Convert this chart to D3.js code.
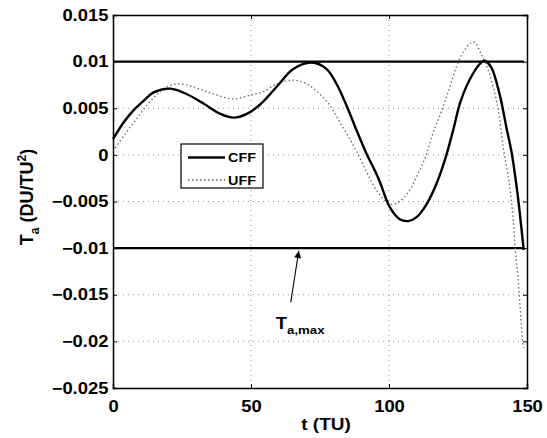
<!doctype html>
<html lang="en">
  <head>
    <meta charset="utf-8">
    <title>Ta vs t</title>
    <style>
      body { margin: 0; background: #fff; }
      text { font-family: "Liberation Sans", Arial, sans-serif; font-weight: bold; fill: #000; }
    </style>
  </head>
  <body>
    <div id="chart"></div>
    <script src="https://d3js.org/d3.v7.min.js"></script>
    <script type="text/javascript">
      const w = 547;
      const h = 438;

      // data: time (TU) and thrust acceleration (DU/TU^2)
      const tCFF = [0, 3.9, 7.5, 11.1, 14.7, 20.8, 26.8, 32.8, 38.9, 43.7, 48.5, 53.3, 59.3, 65.3, 72, 77.4, 81, 84.6, 88.3, 91.9, 94.9, 96.7, 100.3, 103.9, 106.9, 109.9, 113.6, 117.2, 120.2, 123.2, 126, 130.4, 133.4, 134.6, 137, 140, 142.5, 144.4, 146.1, 147.3, 148.8];
      const vCFF = [0.0017, 0.0035, 0.0048, 0.0058, 0.0067, 0.0071, 0.0065, 0.0055, 0.0044, 0.0040, 0.0044, 0.0054, 0.0073, 0.0092, 0.0099, 0.0092, 0.0076, 0.0053, 0.0026, 0.0001, -0.0017, -0.0029, -0.0056, -0.0069, -0.0071, -0.0067, -0.0053, -0.0031, -0.0006, 0.0026, 0.0058, 0.0087, 0.0099, 0.0101, 0.0094, 0.0066, 0.0030, 0.0003, -0.0031, -0.0060, -0.0102];

      const tUFF = [0, 4.5, 8.1, 11.7, 16, 19.6, 23.2, 28, 32.8, 37.7, 43.7, 49.7, 54.5, 59.3, 64.1, 67.8, 71.4, 75, 78.6, 82.2, 85.8, 89.4, 92.5, 95.5, 97.9, 100.3, 103.3, 105.7, 108.1, 109.9, 111.7, 113.6, 115.9, 118.4, 121.4, 125.6, 129.2, 131, 132.8, 136.4, 139.4, 141.5, 143.7, 144.9, 145.8, 146.7, 147.6, 148.5, 148.8];
      const vUFF = [0.0004, 0.0023, 0.0037, 0.0051, 0.0065, 0.0073, 0.0076, 0.0074, 0.0069, 0.0064, 0.0060, 0.0064, 0.0068, 0.0076, 0.0080, 0.0079, 0.0074, 0.0065, 0.0053, 0.0035, 0.0017, -0.0003, -0.0022, -0.0038, -0.0047, -0.0053, -0.0051, -0.0045, -0.0035, -0.0024, -0.0013, 0.0001, 0.0023, 0.0042, 0.0067, 0.0103, 0.0119, 0.0121, 0.0112, 0.0087, 0.0051, 0.0006, -0.0033, -0.0066, -0.0103, -0.0131, -0.0167, -0.0203, -0.0207];

      const tLimit = [0, 148.9];
      const vLimit = [0.01, -0.01];

      const xTicks = [0, 50, 100, 150];
      const yTicks = [0.015, 0.01, 0.005, 0, -0.005, -0.01, -0.015, -0.02, -0.025];
      const yTickLabels = ["0.015", "0.01", "0.005", "0", "\u22120.005", "\u22120.01", "\u22120.015", "\u22120.02", "\u22120.025"];

      // arrow for the T_a,max note: [t, value] tail then tip
      const arrowPts = [[64.4, -0.0158], [67.3, -0.0103]];
      const notePos = [59.0, -0.0187];

      const pLeft = 113, pRight = 527, pTop = 15, pBottom = 388;

      const x = d3.scaleLinear().domain([0, 150]).range([pLeft, pRight]);
      const y = d3.scaleLinear().domain([-0.025, 0.015]).range([pBottom, pTop]);

      const svg = d3.select('#chart')
                    .append('svg')
                    .attr('width', w)
                    .attr('height', h);

      svg.append('defs').append('marker')
        .attr('id', 'head')
        .attr('viewBox', '0 0 10 10')
        .attr('refX', 10)
        .attr('refY', 5)
        .attr('markerWidth', 9)
        .attr('markerHeight', 7)
        .attr('markerUnits', 'userSpaceOnUse')
        .attr('orient', 'auto')
        .append('path')
        .attr('d', 'M0,0 L10,5 L0,10 z')
        .attr('fill', '#000');

      // grid
      svg.append('g')
        .selectAll('line')
        .data(xTicks.slice(1, -1))
        .enter()
        .append('line')
        .attr('x1', d => x(d)).attr('x2', d => x(d))
        .attr('y1', pTop).attr('y2', pBottom)
        .attr('stroke', '#777')
        .attr('stroke-width', 0.8)
        .attr('stroke-dasharray', '1,4');

      svg.append('g')
        .selectAll('line')
        .data(yTicks.slice(1, -1))
        .enter()
        .append('line')
        .attr('x1', pLeft).attr('x2', pRight)
        .attr('y1', d => y(d)).attr('y2', d => y(d))
        .attr('stroke', '#777')
        .attr('stroke-width', 0.8)
        .attr('stroke-dasharray', '1,4');

      // axes with inward ticks, on all four sides
      const xAxis = svg.append('g')
        .attr('transform', `translate(0,${pBottom})`)
        .call(d3.axisBottom(x).tickValues(xTicks).tickSize(-4).tickPadding(9).tickFormat(d3.format('d')));
      svg.append('g')
        .attr('transform', `translate(0,${pTop})`)
        .call(d3.axisTop(x).tickValues(xTicks).tickSize(-4).tickFormat(''));
      const yAxis = svg.append('g')
        .attr('transform', `translate(${pLeft},0)`)
        .call(d3.axisLeft(y).tickValues(yTicks).tickSize(-4).tickPadding(8).tickFormat((d, i) => yTickLabels[i]));
      svg.append('g')
        .attr('transform', `translate(${pRight},0)`)
        .call(d3.axisRight(y).tickValues(yTicks).tickSize(-4).tickFormat(''));

      svg.selectAll('.domain').attr('stroke', '#000').attr('stroke-width', 1.5);
      svg.selectAll('.tick line').attr('stroke', '#000');
      svg.selectAll('.tick text')
        .style('font-size', '16px')
        .style('font-family', '"Liberation Sans", Arial, sans-serif')
        .style('font-weight', 'bold')
        .attr('fill', '#000');
      xAxis.selectAll('.tick text').attr('transform', 'scale(1.15,1)').attr('dy', '0.95em');
      yAxis.selectAll('.tick text').attr('transform', 'scale(1.15,1)').attr('x', -4);

      // limit lines
      vLimit.forEach(v => {
        svg.append('line')
          .attr('x1', x(tLimit[0])).attr('x2', x(tLimit[1]))
          .attr('y1', y(v)).attr('y2', y(v))
          .attr('stroke', '#000')
          .attr('stroke-width', 2.2);
      });

      const line = d3.line()
        .x(d => x(d[0]))
        .y(d => y(d[1]))
        .curve(d3.curveCatmullRom.alpha(0.5));

      svg.append('path')
        .datum(tUFF.map((t, i) => [t, vUFF[i]]))
        .attr('d', line)
        .attr('fill', 'none')
        .attr('stroke', '#666')
        .attr('stroke-width', 1.3)
        .attr('stroke-dasharray', '1.5,2.5');

      svg.append('path')
        .datum(tCFF.map((t, i) => [t, vCFF[i]]))
        .attr('d', line)
        .attr('fill', 'none')
        .attr('stroke', '#000')
        .attr('stroke-width', 2.4);

      // legend
      const lg = svg.append('g').attr('transform', 'translate(181,144)');
      lg.append('rect')
        .attr('width', 82).attr('height', 44)
        .attr('fill', '#fff')
        .attr('stroke', '#000')
        .attr('stroke-width', 1.2);
      lg.append('line')
        .attr('x1', 7).attr('x2', 44).attr('y1', 13.5).attr('y2', 13.5)
        .attr('stroke', '#000').attr('stroke-width', 2.4);
      lg.append('line')
        .attr('x1', 7).attr('x2', 44).attr('y1', 36).attr('y2', 36)
        .attr('stroke', '#666').attr('stroke-width', 1.3).attr('stroke-dasharray', '1.5,2.5');
      lg.append('text')
        .attr('transform', 'translate(47,18) scale(1.15,1)')
        .style('font-size', '12.5px')
        .text('CFF');
      lg.append('text')
        .attr('transform', 'translate(47,40.5) scale(1.15,1)')
        .style('font-size', '12.5px')
        .text('UFF');

      // T_a,max note
      svg.append('line')
        .attr('x1', x(arrowPts[0][0])).attr('y1', y(arrowPts[0][1]))
        .attr('x2', x(arrowPts[1][0])).attr('y2', y(arrowPts[1][1]))
        .attr('stroke', '#000')
        .attr('stroke-width', 1.1)
        .attr('marker-end', 'url(#head)');

      const note = svg.append('text')
        .attr('transform', `translate(${x(notePos[0])},${y(notePos[1])}) scale(1.15,1)`)
        .style('font-size', '16px');
      note.append('tspan').text('T');
      note.append('tspan').attr('dy', 5).style('font-size', '11.5px').text('a,max');

      // axis labels
      svg.append('text')
        .attr('transform', `translate(${(pLeft + pRight) / 2 + 6},430) scale(1.15,1)`)
        .attr('text-anchor', 'middle')
        .style('font-size', '16.5px')
        .text('t (TU)');

      const yl = svg.append('text')
        .attr('transform', 'translate(33,197) rotate(-90)')
        .attr('text-anchor', 'middle')
        .style('font-size', '18px');
      yl.append('tspan').text('T');
      yl.append('tspan').attr('dy', 6).style('font-size', '12px').text('a');
      yl.append('tspan').attr('dy', -6).text(' (DU/TU');
      yl.append('tspan').attr('dy', -7).style('font-size', '12px').text('2');
      yl.append('tspan').attr('dy', 7).text(')');
    </script>
  </body>
</html>
